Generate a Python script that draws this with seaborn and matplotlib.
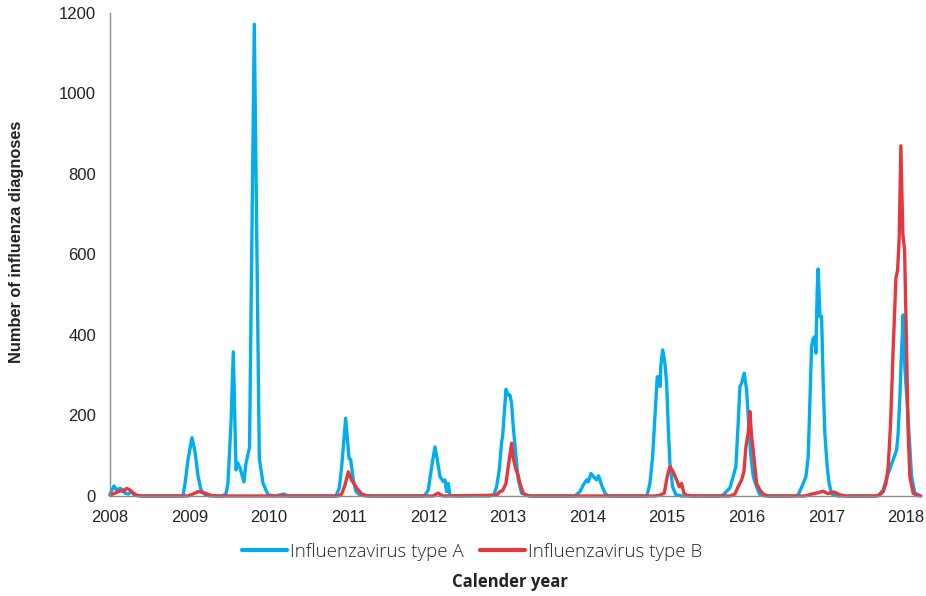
import matplotlib
matplotlib.use("Agg")
import matplotlib.pyplot as plt
import seaborn as sns
import pandas as pd
from matplotlib.lines import Line2D

# --- Data (x = decimal calendar year, weekly diagnoses) ---
TYPE_A_YEAR = [
    2008.000, 2008.050, 2008.084, 2008.126, 2008.167, 2008.188, 2008.230, 2008.273, 2008.305, 2008.377,
    2008.917, 2008.942, 2008.980, 2009.030, 2009.068, 2009.106, 2009.143, 2009.193, 2009.256,
    2009.407, 2009.457, 2009.482, 2009.520, 2009.549, 2009.583, 2009.604, 2009.633, 2009.683, 2009.705,
    2009.737, 2009.753, 2009.813, 2009.876, 2009.922, 2009.985, 2010.073, 2010.186, 2010.236,
    2010.839, 2010.881, 2010.911, 2010.961, 2011.003, 2011.024, 2011.057, 2011.091, 2011.141, 2011.216,
    2011.920, 2011.957, 2011.999, 2012.042, 2012.083, 2012.112, 2012.146, 2012.187, 2012.209, 2012.230,
    2012.250, 2012.271, 2012.334,
    2012.774, 2012.824, 2012.858, 2012.891, 2012.921, 2012.933, 2012.975, 2013.004, 2013.025, 2013.046,
    2013.067, 2013.101, 2013.130, 2013.172, 2013.276,
    2013.842, 2013.905, 2013.946, 2013.989, 2014.009, 2014.043, 2014.084, 2014.114, 2014.139, 2014.177,
    2014.219, 2014.260,
    2014.721, 2014.750, 2014.784, 2014.818, 2014.847, 2014.876, 2014.897, 2014.910, 2014.922, 2014.944,
    2014.972, 2014.994, 2015.014, 2015.035, 2015.069, 2015.111, 2015.186,
    2015.663, 2015.705, 2015.789, 2015.830, 2015.864, 2015.893, 2015.915, 2015.936, 2015.969, 2015.999,
    2016.019, 2016.049, 2016.082, 2016.124, 2016.166, 2016.241,
    2016.606, 2016.647, 2016.702, 2016.744, 2016.773, 2016.794, 2016.815, 2016.836, 2016.857, 2016.869,
    2016.886, 2016.898, 2016.920, 2016.941, 2016.961, 2016.982, 2017.011, 2017.036, 2017.067, 2017.146,
    2017.648, 2017.715, 2017.778, 2017.840, 2017.883, 2017.903, 2017.925, 2017.946, 2017.966, 2017.987,
    2018.016, 2018.041, 2018.072, 2018.113, 2018.176,
]
TYPE_A_COUNT = [
    5, 25, 15, 19, 15, 7, 5, 11, 2, 0,
    0, 30, 90, 145, 110, 50, 15, 3, 0,
    0, 5, 32, 180, 358, 65, 82, 70, 35, 77,
    107, 120, 1172, 94, 32, 3, 0, 5, 0,
    0, 20, 73, 193, 94, 90, 40, 11, 2, 0,
    0, 2, 15, 73, 122, 90, 48, 36, 40, 11,
    31, 2, 0,
    0, 3, 23, 65, 135, 147, 265, 251, 251, 230,
    172, 98, 40, 7, 0,
    0, 11, 27, 40, 35, 56, 46, 40, 50, 27,
    7, 0,
    0, 3, 31, 98, 197, 296, 296, 272, 325, 363,
    330, 280, 172, 81, 23, 3, 0,
    0, 3, 20, 48, 73, 181, 272, 280, 305, 263,
    197, 106, 48, 23, 3, 0,
    0, 3, 27, 48, 98, 238, 371, 392, 396, 355,
    512, 564, 446, 446, 280, 156, 73, 31, 5, 0,
    0, 15, 56, 90, 114, 156, 247, 363, 450, 321,
    230, 147, 48, 7, 1,
]

TYPE_B_YEAR = [
    2008.000, 2008.063, 2008.126, 2008.167, 2008.210, 2008.251, 2008.293, 2008.335, 2008.402,
    2008.980, 2009.043, 2009.109, 2009.181, 2009.278, 2009.357,
    2010.870, 2010.911, 2010.952, 2010.994, 2011.036, 2011.099, 2011.162, 2011.225, 2011.291,
    2012.058, 2012.121, 2012.183,
    2012.858, 2012.899, 2012.933, 2012.975, 2013.004, 2013.046, 2013.067, 2013.101, 2013.130, 2013.151,
    2013.192, 2013.235, 2013.301,
    2014.847, 2014.910, 2014.964, 2015.001, 2015.035, 2015.077, 2015.119, 2015.152, 2015.182, 2015.211,
    2015.245, 2015.312,
    2015.789, 2015.852, 2015.893, 2015.936, 2015.965, 2015.990, 2016.019, 2016.040, 2016.062, 2016.082,
    2016.103, 2016.124, 2016.166, 2016.207, 2016.266,
    2016.731, 2016.819, 2016.895, 2016.958, 2017.020, 2017.096, 2017.171, 2017.246,
    2017.611, 2017.673, 2017.715, 2017.749, 2017.778, 2017.808, 2017.840, 2017.875, 2017.896, 2017.916,
    2017.937, 2017.962, 2017.984, 2018.009, 2018.029, 2018.050, 2018.092, 2018.134, 2018.188,
]
TYPE_B_COUNT = [
    2, 7, 13, 11, 19, 15, 7, 2, 0,
    0, 5, 11, 8, 1, 0,
    0, 5, 27, 60, 40, 20, 5, 1, 0,
    0, 7, 0,
    2, 11, 13, 31, 73, 131, 94, 65, 50, 31,
    7, 1, 0,
    0, 2, 7, 48, 73, 60, 40, 23, 31, 7,
    2, 0,
    0, 5, 23, 40, 60, 122, 156, 210, 147, 114,
    73, 31, 15, 5, 0,
    0, 5, 8, 12, 6, 10, 3, 0,
    0, 3, 11, 31, 73, 181, 363, 541, 561, 640,
    870, 650, 611, 363, 156, 48, 7, 2, 0,
]

SERIES_NAMES = ["Influenzavirus type A", "Influenzavirus type B"]
YEAR_TICKS = list(range(2008, 2019))
COUNT_TICKS = list(range(0, 1201, 200))

# --- Styling ---
BLUE = "#00AEEF"
RED = "#E5383E"
AXIS_GREY = "#8C8C8C"

sns.set_style("white")
plt.rcParams["font.family"] = ["Liberation Sans", "DejaVu Sans"]

df = pd.concat([
    pd.DataFrame({"year": TYPE_A_YEAR, "count": TYPE_A_COUNT, "series": SERIES_NAMES[0]}),
    pd.DataFrame({"year": TYPE_B_YEAR, "count": TYPE_B_COUNT, "series": SERIES_NAMES[1]}),
], ignore_index=True)

fig = plt.figure(figsize=(9.26, 5.96), dpi=100)
ax = fig.add_axes([0.1188, 0.1678, 0.8758, 0.8104])

sns.lineplot(data=df, x="year", y="count", hue="series",
             palette={SERIES_NAMES[0]: BLUE, SERIES_NAMES[1]: RED},
             linewidth=2.4, estimator=None, legend=False, ax=ax)
for line in ax.lines:
    line.set_clip_on(False)
    line.set_solid_joinstyle("round")

ax.set_xlim(2008, 2018.19)
ax.set_ylim(0, 1200)
ax.set_xticks(YEAR_TICKS)
ax.set_xticklabels([str(y) for y in YEAR_TICKS])
ax.set_yticks(COUNT_TICKS)
ax.set_xlabel("")
ax.set_ylabel("")

for side in ["top", "right"]:
    ax.spines[side].set_visible(False)
for side in ["left", "bottom"]:
    ax.spines[side].set_color(AXIS_GREY)
    ax.spines[side].set_linewidth(1.0)
ax.tick_params(axis="both", which="major", direction="out", length=6, width=1.0,
               color=AXIS_GREY, labelsize=12, labelcolor="#222222", pad=4)

fig.text(17 / 926, 1 - 242 / 596, "Number of influenza diagnoses", rotation=90,
         ha="center", va="center", fontsize=11.8, fontweight="bold", color="#222222")
fig.text(510 / 926, 1 - 582 / 596, "Calender year", ha="center", va="center",
         fontsize=12, fontweight="bold", color="#222222", family=["Open Sans", "DejaVu Sans"])

handles = [Line2D([0], [0], color=BLUE, lw=3), Line2D([0], [0], color=RED, lw=3)]
fig.legend(handles, SERIES_NAMES, loc="center", bbox_to_anchor=(472 / 926, 1 - 552 / 596),
           ncol=2, frameon=False, handlelength=2.4, handletextpad=0.12, columnspacing=0.9,
           prop={"family": ["Open Sans", "DejaVu Sans"], "size": 13.5, "weight": "light"})

fig.savefig("out.png", dpi=100)
